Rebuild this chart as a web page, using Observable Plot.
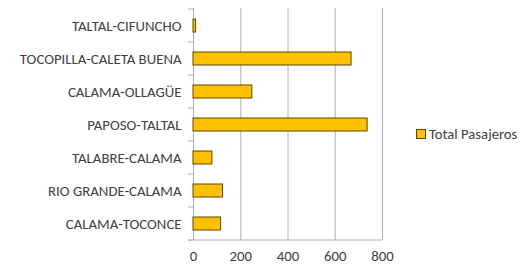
<!DOCTYPE html>
<html><head><meta charset="utf-8">
<script src="https://cdn.jsdelivr.net/npm/d3@7"></script>
<script src="https://cdn.jsdelivr.net/npm/@observablehq/plot@0.6"></script>
<style>
body{margin:0;background:#fff;}
#wrap{position:relative;width:527px;height:267px;font-family:Carlito,Lato,"Open Sans",sans-serif;}
#legend{position:absolute;left:416px;top:125px;font-size:14.7px;color:#404040;display:flex;align-items:center;white-space:nowrap;}
#legend span.sw{display:inline-block;width:8px;height:8px;background:#FFC000;border:1px solid #5a4a00;margin-right:3px;}
</style></head>
<body><div id="wrap"><div id="legend"><span class="sw"></span>Total Pasajeros</div></div>
<script>
const routes = ["TALTAL-CIFUNCHO","TOCOPILLA-CALETA BUENA","CALAMA-OLLAGÜE","PAPOSO-TALTAL","TALABRE-CALAMA","RIO GRANDE-CALAMA","CALAMA-TOCONCE"];
const pasajeros = [11, 669, 249, 737, 80, 125, 117];
const xTicks = [0, 200, 400, 600, 800];
const seriesName = "Total Pasajeros";

const data = routes.map((r, i) => ({route: r, value: pasajeros[i]}));

const chart = Plot.plot({
  width: 527,
  height: 267,
  marginLeft: 193,
  marginRight: 145,
  marginTop: 8,
  marginBottom: 27,
  style: {fontFamily: "Carlito, Lato, 'Open Sans', sans-serif", fontSize: "14.8px", color: "#404040", background: "#fff"},
  x: {domain: [0, 800], ticks: xTicks, label: null},
  y: {domain: routes, paddingInner: 0.62, paddingOuter: 0.31, label: null},
  marks: [
    Plot.gridX(xTicks.filter(d => d > 0), {stroke: "#b0b0b0", strokeOpacity: 1}),
    Plot.ruleX([0], {stroke: "#b0b0b0"}),
    Plot.barX(data, {y: "route", x: "value", fill: "#FFC000", stroke: "#5a4a00", strokeWidth: 1}),
    Plot.axisX({ticks: xTicks, tickSize: 0, tickPadding: 10, fill: "#404040"}),
    Plot.axisY({tickSize: 0, tickPadding: 12, fill: "#404040"})
  ]
});
document.getElementById("wrap").prepend(chart);

// Excel-like frame: bottom axis line and category boundary ticks
const svg = d3.select(chart);
const xs = chart.scale("x"), ys = chart.scale("y");
const x0 = xs.apply(0), x1 = xs.apply(800);
const step = ys.step;
const yTop = ys.apply(routes[0]) - (step - ys.bandwidth) / 2;
const g = svg.append("g").attr("stroke", "#b0b0b0").attr("fill", "none");
g.append("line").attr("x1", x0 - 5).attr("x2", x1).attr("y1", yTop + step * routes.length).attr("y2", yTop + step * routes.length);
for (let i = 0; i <= routes.length; i++) {
  const y = yTop + step * i;
  g.append("line").attr("x1", x0 - 5).attr("x2", x0).attr("y1", y).attr("y2", y);
}
</script></body></html>
